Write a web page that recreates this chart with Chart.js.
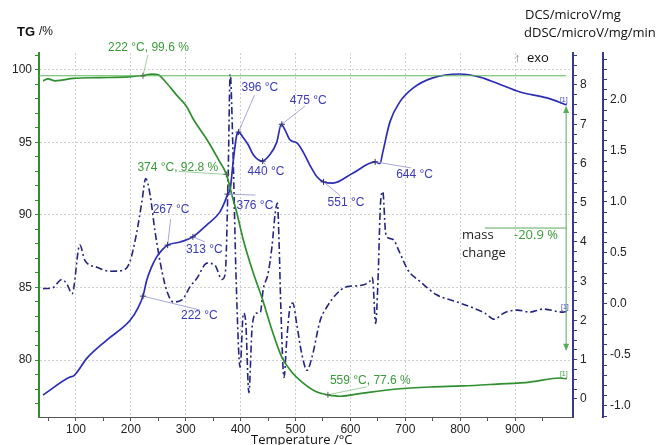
<!DOCTYPE html>
<html>
<head>
<meta charset="utf-8">
<script src="https://cdn.jsdelivr.net/npm/chart.js@4.4.1/dist/chart.umd.min.js"></script>
<style>
  html, body { margin: 0; padding: 0; background: #fff; }
  canvas { display: block; }
</style>
</head>
<body>
<canvas id="chart" width="661" height="445"></canvas>
<script>
// ── Data ────────────────────────────────────────────────────────────────────
// TG curve: temperature (°C) -> mass (%)
const tgTemp = [40, 49, 62, 74, 95, 144, 195, 222, 238, 250, 265, 283, 302, 313, 339, 360, 374, 386, 394, 404,
                423, 439, 457, 475, 493, 514, 539, 559, 581, 623, 685, 745, 805, 867, 927, 982, 994];
const tgMass = [99.25, 99.38, 99.25, 99.3, 99.42, 99.47, 99.52, 99.62, 99.72, 99.66, 99.1, 98.28, 97.45, 96.65, 95.17, 93.8, 92.8, 91.1, 90.0, 88.4,
                86.0, 84.28, 82.07, 80.2, 79.17, 78.41, 77.79, 77.6, 77.5, 77.72, 78.0, 78.14, 78.21, 78.34, 78.48, 78.76, 78.7];

// DSC curve (solid): temperature -> microV/mg
const dscTemp  = [40, 89, 96, 120, 156, 199, 213, 222, 229, 237, 247, 257, 267, 290, 313, 338, 362, 371, 377, 381,
                  386, 390, 393, 396, 404, 414, 423, 439, 453, 466, 474, 481, 490, 503, 514, 526, 539, 551, 568, 605,
                  645, 654, 659, 672, 690, 714, 750, 799, 836, 866, 909, 958, 994];
const dscValue = [0.10, 0.56, 0.59, 1.04, 1.50, 2.01, 2.32, 2.62, 3.03, 3.34, 3.62, 3.80, 3.92, 4.00, 4.13, 4.43, 4.76, 5.02, 5.24, 5.35,
                  6.00, 6.47, 6.73, 6.80, 6.67, 6.47, 6.22, 6.06, 6.22, 6.55, 7.00, 6.85, 6.60, 6.52, 6.29, 5.96, 5.66, 5.53, 5.50, 5.76,
                  6.04, 6.00, 6.29, 7.06, 7.57, 7.92, 8.18, 8.28, 8.20, 8.05, 7.82, 7.67, 7.49];

// dDSC curve (dash-dot): temperature -> microV/mg/min
const ddscTemp  = [40, 58, 74, 83, 93, 107, 116, 138, 162, 186, 198, 211, 220, 227, 235, 244, 257, 266, 277, 293,
                   308, 320, 339, 353, 366, 372, 377, 381, 386, 392, 399, 405, 409, 415, 421, 429, 436, 441, 450, 457,
                   463, 467, 470, 473, 479, 484, 490, 495, 502, 511, 521, 530, 545, 557, 575, 594, 617, 635, 640, 646,
                   650, 655, 659, 664, 668, 678, 690, 705, 727, 757, 794, 824, 845, 862, 879, 904, 927, 951, 987, 996];
const ddscValue = [0.15, 0.16, 0.24, 0.20, 0.10, 0.58, 0.43, 0.36, 0.32, 0.33, 0.41, 0.71, 1.00, 1.23, 1.07, 0.71, 0.31, 0.12, 0.02, 0.04,
                   0.17, 0.25, 0.40, 0.38, 0.24, 0.30, 1.20, 2.25, 1.50, 0.20, -0.62, -0.09, -0.16, -0.87, -0.22, -0.09, -0.08, 0.14, 0.30, 0.56,
                   0.89, 0.99, 0.60, 0.00, -0.72, -0.35, -0.03, 0.01, -0.19, -0.48, -0.65, -0.52, -0.16, -0.03, 0.10, 0.17, 0.18, 0.22, 0.26, -0.19,
                   0.20, 1.00, 1.10, 0.70, 0.65, 0.63, 0.50, 0.33, 0.22, 0.09, 0.02, -0.04, -0.09, -0.15, -0.09, -0.06, -0.08, -0.05, -0.08, -0.07];

// Tick labels
const tempTicks = [100, 200, 300, 400, 500, 600, 700, 800, 900];
const tgTicks   = [80, 85, 90, 95, 100];
const dscTicks  = [0, 1, 2, 3, 4, 5, 6, 7, 8];
const ddscTicks = [-1.0, -0.5, 0.0, 0.5, 1.0, 1.5, 2.0];

// Evaluation marks
const tgLevel      = 99.6;   // horizontal reference through the 222 °C point
const massChange   = -20.9;  // %
const massArrowT   = 993;    // °C, position of the mass-change arrow
const massArrowTop = 97.45;  // TG %
const massArrowBot = 80.7;   // TG %
const massLineTG   = 89.1;   // level of the short "-20.9 %" bar
const massLineT0   = 845;

// Annotated points: axis, temperature, value, text
const annotations = [
  { axis: 'yDSC', t: 396, v: 6.80, text: '396 °C', dx: 3,   dy: -44, ex: 16, ey: -37 },
  { axis: 'yDSC', t: 475, v: 7.00, text: '475 °C', dx: 8,   dy: -24, ex: 23, ey: -18 },
  { axis: 'yDSC', t: 440, v: 6.06, text: '440 °C', dx: -15, dy: 11,  ex: 3,  ey: 4 },
  { axis: 'yDSC', t: 376, v: 5.22, text: '376 °C', dx: 9,   dy: 12,  ex: 28, ey: 1 },
  { axis: 'yDSC', t: 267, v: 3.92, text: '267 °C', dx: -15, dy: -35, ex: 3,  ey: -26 },
  { axis: 'yDSC', t: 313, v: 4.13, text: '313 °C', dx: -7,  dy: 13,  ex: 12, ey: 5 },
  { axis: 'yDSC', t: 551, v: 5.53, text: '551 °C', dx: 4,   dy: 21,  ex: 17, ey: 14 },
  { axis: 'yDSC', t: 645, v: 6.04, text: '644 °C', dx: 21,  dy: 13,  ex: 36, ey: 6 },
  { axis: 'yDSC', t: 222, v: 2.62, text: '222 °C', dx: 38,  dy: 20,  ex: 57, ey: 14 },
  { axis: 'yTG',  t: 222, v: 99.6, text: '222 °C, 99.6 %', dx: -35, dy: -28, ex: 5,   ey: -21 },
  { axis: 'yTG',  t: 374, v: 92.8, text: '374 °C, 92.8 %', dx: -89, dy: -7,  ex: -48, ey: -3 },
  { axis: 'yTG',  t: 559, v: 77.6, text: '559 °C, 77.6 %', dx: 2,   dy: -14, ex: 39,  ey: -8 },
];

// ── Axis ranges ─────────────────────────────────────────────────────────────
const T_MIN = 32.6, T_MAX = 1005.5;
const TG_MIN = 76.07, TG_MAX = 101.17;
const DSC_MIN = -0.46, DSC_MAX = 8.815;
const DDSC_MIN = -1.108, DDSC_MAX = 2.46;

// ── Colours ─────────────────────────────────────────────────────────────────
const GREEN      = '#2f8f2f';
const GREEN_TEXT = '#3a9a3a';
const GREEN_PALE = '#9fcf9f';
const BLUE       = '#2d2db4';
const NAVY       = '#25257f';
const BLUE_TEXT  = '#3a3ab8';
const BLUE_PALE  = '#a6a6dc';
const AXIS_NAVY  = '#3a3a8c';
const GRID       = '#cfcfcf';
const TICK_FONT  = { family: 'Liberation Sans, Arial, sans-serif', size: 12 };

const pts = (xs, ys) => xs.map((x, i) => ({ x, y: ys[i] }));
const near = (list, v) => list.some(m => Math.abs(m - v) < 1e-6);
const stepTicks = (from, to, step) => {
  const out = [];
  for (let k = Math.round(from / step); k * step <= to + 1e-9; k++) out.push({ value: +(k * step).toFixed(4) });
  return out;
};

// ── Decorations: titles, annotations, mass change arrow ─────────────────────
const decor = {
  id: 'decor',
  afterDatasetsDraw(chart) {
    const { ctx, scales } = chart;
    const X = scales.x;
    ctx.save();

    // leader lines + small crosses + labels
    annotations.forEach(a => {
      const px = X.getPixelForValue(a.t);
      const py = scales[a.axis].getPixelForValue(a.v);
      const isTG = a.axis === 'yTG';
      ctx.strokeStyle = isTG ? GREEN_PALE : BLUE_PALE;
      ctx.lineWidth = 1;
      ctx.beginPath();
      ctx.moveTo(px, py);
      ctx.lineTo(px + a.ex, py + a.ey);
      ctx.stroke();
      ctx.strokeStyle = isTG ? '#4a6a4a' : '#30306a';
      ctx.beginPath();
      ctx.moveTo(px - 3, py); ctx.lineTo(px + 3, py);
      ctx.moveTo(px, py - 3); ctx.lineTo(px, py + 3);
      ctx.stroke();
      ctx.fillStyle = isTG ? GREEN_TEXT : BLUE_TEXT;
      ctx.font = '12px "Liberation Sans", Arial, sans-serif';
      ctx.textAlign = 'left';
      ctx.textBaseline = 'middle';
      ctx.fillText(a.text, px + a.dx, py + a.dy);
    });

    // mass change arrow
    const ax = X.getPixelForValue(massArrowT);
    const ayTop = scales.yTG.getPixelForValue(massArrowTop);
    const ayBot = scales.yTG.getPixelForValue(massArrowBot);
    ctx.strokeStyle = '#5aaa5a';
    ctx.fillStyle = '#5aaa5a';
    ctx.lineWidth = 1;
    ctx.beginPath();
    ctx.moveTo(ax, ayTop); ctx.lineTo(ax, ayBot);
    const ly = scales.yTG.getPixelForValue(massLineTG);
    ctx.moveTo(X.getPixelForValue(massLineT0), ly); ctx.lineTo(ax, ly);
    ctx.stroke();
    ctx.beginPath();
    ctx.moveTo(ax, ayTop - 1); ctx.lineTo(ax - 3, ayTop + 6); ctx.lineTo(ax + 3, ayTop + 6); ctx.closePath();
    ctx.moveTo(ax, ayBot + 1); ctx.lineTo(ax - 3, ayBot - 6); ctx.lineTo(ax + 3, ayBot - 6); ctx.closePath();
    ctx.fill();

    // "[1]" end markers
    ctx.font = '7px "Liberation Sans", Arial, sans-serif';
    ctx.textAlign = 'right';
    ctx.textBaseline = 'bottom';
    const ends = [
      ['yDSC', dscTemp, dscValue, BLUE_TEXT],
      ['yDDSC', ddscTemp, ddscValue, BLUE_TEXT],
      ['yTG', tgTemp, tgMass, GREEN_TEXT],
    ];
    ends.forEach(([axis, xs, ys, col]) => {
      const px = X.getPixelForValue(xs[xs.length - 1]);
      const py = scales[axis].getPixelForValue(ys[ys.length - 1]);
      ctx.fillStyle = col;
      ctx.fillText('[1]', px + 1, py - 1);
    });

    // mass change text
    const sans = '"Open Sans", "Liberation Sans", sans-serif';
    ctx.font = '13px ' + sans;
    ctx.textAlign = 'left';
    ctx.textBaseline = 'middle';
    ctx.fillStyle = '#222';
    ctx.fillText('mass', 462, 235);
    ctx.fillText('change', 462, 253);
    ctx.fillStyle = GREEN_TEXT;
    ctx.fillText(massChange.toFixed(1) + ' %', 514, 235);

    // axis titles
    ctx.fillStyle = '#111';
    ctx.font = 'bold 13px "Liberation Sans", Arial, sans-serif';
    ctx.fillText('TG', 17, 32);
    ctx.font = '12px "Liberation Sans", Arial, sans-serif';
    ctx.fillText('/%', 39, 32);
    ctx.font = '13px ' + sans;
    ctx.fillText('DCS/microV/mg', 525, 15);
    ctx.fillText('dDSC/microV/mg/min', 524, 33);
    ctx.fillStyle = '#777';
    ctx.fillText('↑', 514, 58);
    ctx.fillStyle = '#111';
    ctx.fillText('exo', 527, 58);
    ctx.fillText('Temperature /°C', 251, 440);
    ctx.restore();
  }
};

// ── Chart ───────────────────────────────────────────────────────────────────
const ctx = document.getElementById('chart').getContext('2d');
new Chart(ctx, {
  type: 'line',
  data: {
    datasets: [
      { data: pts([T_MIN, massArrowT], [tgLevel, tgLevel]), yAxisID: 'yTG',
        borderColor: '#5cb85c', borderWidth: 1, pointRadius: 0 },
      { data: pts(tgTemp, tgMass), yAxisID: 'yTG', borderColor: GREEN, borderWidth: 1.7,
        pointRadius: 0, cubicInterpolationMode: 'monotone' },
      { data: pts(dscTemp, dscValue), yAxisID: 'yDSC', borderColor: BLUE, borderWidth: 1.7,
        pointRadius: 0, cubicInterpolationMode: 'monotone' },
      { data: pts(ddscTemp, ddscValue), yAxisID: 'yDDSC', borderColor: NAVY, borderWidth: 1.6,
        borderDash: [7, 3, 2, 3], pointRadius: 0, cubicInterpolationMode: 'monotone' },
    ],
  },
  options: {
    responsive: false,
    animation: false,
    events: [],
    layout: { padding: { top: 53, left: 0, right: 0, bottom: 0 } },
    plugins: { legend: { display: false }, tooltip: { enabled: false } },
    scales: {
      x: {
        type: 'linear', min: T_MIN, max: T_MAX,
        afterBuildTicks: s => { s.ticks = stepTicks(50, 950, 50); },
        afterFit: s => { s.height = 28; },
        ticks: { autoSkip: false, maxRotation: 0, padding: 1, color: '#222', font: TICK_FONT,
                 callback: v => near(tempTicks, v) ? String(v) : '' },
        grid: { color: c => c.tick && near(tempTicks, c.tick.value) ? GRID : 'rgba(0,0,0,0)',
                tickColor: '#555', tickLength: 4, lineWidth: 1 },
        border: { color: '#555', width: 1, dash: [2, 2] },
      },
      yTG: {
        type: 'linear', position: 'left', min: TG_MIN, max: TG_MAX,
        afterBuildTicks: s => { s.ticks = stepTicks(77, 101, 1); },
        afterFit: s => { s.width = 39; },
        ticks: { autoSkip: false, padding: 3, color: '#222', font: TICK_FONT,
                 callback: v => near(tgTicks, v) ? String(v) : '' },
        grid: { color: c => c.tick && near(tgTicks, c.tick.value) ? GRID : 'rgba(0,0,0,0)',
                tickColor: GREEN, tickLength: 4, lineWidth: 1 },
        border: { color: GREEN, width: 2, dash: [2, 2] },
      },
      yDSC: {
        type: 'linear', position: 'right', weight: 0, min: DSC_MIN, max: DSC_MAX,
        afterBuildTicks: s => { s.ticks = stepTicks(0, 8.75, 0.25); },
        afterFit: s => { s.width = 30; },
        ticks: { autoSkip: false, padding: 3, color: '#222', font: TICK_FONT,
                 callback: v => near(dscTicks, v) ? String(Math.round(v)) : '' },
        grid: { drawOnChartArea: false, tickColor: AXIS_NAVY, tickLength: 4, lineWidth: 1 },
        border: { color: AXIS_NAVY, width: 2 },
      },
      yDDSC: {
        type: 'linear', position: 'right', weight: 1, min: DDSC_MIN, max: DDSC_MAX,
        afterBuildTicks: s => { s.ticks = stepTicks(-1.1, 2.4, 0.1); },
        afterFit: s => { s.width = 58; },
        ticks: { autoSkip: false, padding: 3, color: '#222', font: TICK_FONT,
                 callback: v => near(ddscTicks, v) ? v.toFixed(1) : '' },
        grid: { drawOnChartArea: false, tickColor: AXIS_NAVY, tickLength: 4, lineWidth: 1 },
        border: { color: AXIS_NAVY, width: 2 },
      },
    },
  },
  plugins: [decor],
});
</script>
</body>
</html>
